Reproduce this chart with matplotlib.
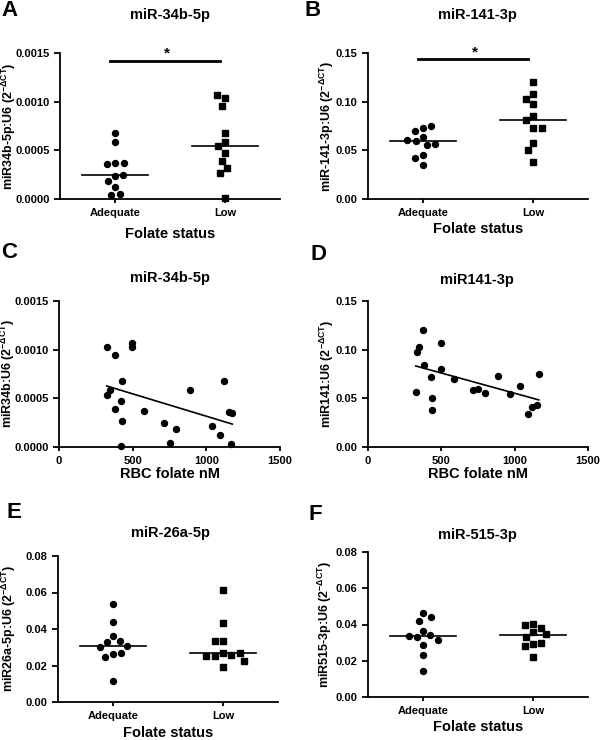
import matplotlib
matplotlib.use('Agg')
import matplotlib.pyplot as plt
import numpy as np

plt.rcParams['font.family'] = ['Liberation Sans', 'DejaVu Sans']
plt.rcParams['font.weight'] = 'bold'
plt.rcParams['mathtext.fontset'] = 'custom'
plt.rcParams['mathtext.rm'] = 'Liberation Sans'
plt.rcParams['mathtext.it'] = 'Liberation Sans:italic'
plt.rcParams['mathtext.bf'] = 'Liberation Sans:bold'

groups = ['Adequate', 'Low']

# A: miR-34b-5p by folate status
a_adequate = [0.00068, 0.00059, 0.00037, 0.00036, 0.00037, 0.00024, 0.00019, 0.00025, 0.00012, 0.000045, 0.00005]
a_low = [0.00104, 0.00107, 0.00096, 0.00068, 0.00059, 0.00054, 0.00047, 0.00039, 0.00032, 0.00027, 0.00001]

# B: miR-141-3p by folate status
b_adequate = [0.0634, 0.0733, 0.0695, 0.0747, 0.0592, 0.0555, 0.0562, 0.0606, 0.0449, 0.0418, 0.0346]
b_low = [0.1205, 0.1079, 0.1031, 0.0973, 0.0853, 0.0808, 0.0726, 0.0726, 0.0572, 0.0500, 0.0384]

# C: miR-34b-5p vs RBC folate
c_rbc = [324, 378, 497, 497, 429, 344, 328, 424, 378, 579, 889, 1117, 1151, 1176, 429, 716, 793, 1037, 1092, 752, 1165, 424]
c_mir = [0.00103, 0.00095, 0.00107, 0.00103, 0.00068, 0.00059, 0.00053, 0.00047, 0.00039, 0.00037, 0.00059,
         0.00068, 0.00036, 0.00035, 0.00027, 0.00025, 0.00018, 0.00022, 0.00012, 0.000045, 0.00003, 0.000007]

# D: miR141-3p vs RBC folate
d_rbc = [378, 351, 333, 501, 383, 501, 428, 584, 326, 433, 437, 716, 752, 795, 888, 965, 1038, 1164, 1092, 1121, 1149]
d_mir = [0.1205, 0.1027, 0.0973, 0.1072, 0.0846, 0.0805, 0.0723, 0.0695, 0.0565, 0.0500, 0.0380,
         0.0586, 0.0599, 0.0555, 0.0726, 0.0548, 0.0627, 0.0747, 0.0342, 0.0411, 0.0435]

# E: miR-26a-5p by folate status
e_adequate = [0.0535, 0.0438, 0.0362, 0.0327, 0.0334, 0.0303, 0.0307, 0.0263, 0.0270, 0.0245, 0.0115]
e_low = [0.0612, 0.0433, 0.0334, 0.0334, 0.0267, 0.0254, 0.0256, 0.0254, 0.0267, 0.0226, 0.0192]

# F: miR-515-3p by folate status
f_adequate = [0.0461, 0.0421, 0.0443, 0.0364, 0.0331, 0.0340, 0.0337, 0.0317, 0.0289, 0.0229, 0.0143]
f_low = [0.0405, 0.0397, 0.0383, 0.0357, 0.0333, 0.0348, 0.0295, 0.0298, 0.0280, 0.0222]

W, H = 600, 740
fig = plt.figure(figsize=(W/100, H/100), dpi=100)

def box(l, r, t, b):
    return [l/W, 1-b/H, (r-l)/W, (b-t)/H]

def swarm(vals, ax, ymax, d=8.5):
    # simple beeswarm in pixel space, returns x offsets in category units
    h = ax.bbox.height
    unit = ax.bbox.width/2
    xs, ys, out = [], [], []
    for v in vals:
        y = v/ymax*h
        cands = [0.0]
        for px, py in zip(xs, ys):
            dy = abs(y-py)
            if dy < d:
                dx = np.sqrt(d*d-dy*dy)
                cands += [px-dx, px+dx]
        cands.sort(key=abs)
        for c in cands:
            if all((c-px)**2+(y-py)**2 >= d*d-1e-6 for px, py in zip(xs, ys)):
                break
        xs.append(c); ys.append(y)
        out.append(c/unit)
    return np.array(out)

def style(ax):
    ax.spines['top'].set_visible(False)
    ax.spines['right'].set_visible(False)
    ax.spines['left'].set_linewidth(1.3)
    ax.spines['bottom'].set_linewidth(1.3)
    ax.tick_params(direction='out', length=4, width=1.3, labelsize=8)
    ax.tick_params(axis='x', length=3)

ylab = r'%s (2$^{\mathregular{-\Delta CT}}$)'

def labels(ax, xlabel, ylabel, lx, ly):
    ax.set_xlabel(xlabel, fontsize=10.5, fontweight='bold', va='top')
    ax.xaxis.set_label_coords(0.5, -ly)
    ax.set_ylabel(ylab % ylabel, fontsize=9, fontweight='bold')
    ax.yaxis.set_label_coords(lx, 0.5)

def dotpanel(rect, adequate, low, ymax, yticks, fmt, ylabel, lx, ly, sig=None):
    ax = fig.add_axes(box(*rect))
    style(ax)
    for i, (vals, m, ms) in enumerate([(adequate, 'o', 4.3), (low, 's', 4.0)]):
        x = i + swarm(vals, ax, ymax)
        ax.plot(x, vals, ls='none', marker=m, ms=ms, color='black', clip_on=False)
        med = np.median(vals)
        ax.plot([i-0.3, i+0.3], [med, med], color='black', lw=1.2)
    ax.set_xlim(-0.5, 1.5)
    ax.set_ylim(0, ymax)
    ax.set_xticks([0, 1])
    ax.set_xticklabels(groups)
    ax.set_yticks(yticks)
    ax.set_yticklabels([fmt % t for t in yticks])
    labels(ax, 'Folate status', ylabel, lx, ly)
    if sig is not None:
        ax.plot([-0.05, 0.95], [sig, sig], color='black', lw=2, clip_on=False)
        ax.text(0.47, sig, '*', ha='center', va='bottom', fontsize=11, fontweight='bold')
    return ax

def scatpanel(rect, x, y, ymax, yticks, fmt, ylabel, lx, ly):
    ax = fig.add_axes(box(*rect))
    style(ax)
    ax.plot(x, y, ls='none', marker='o', ms=4.3, color='black', clip_on=False)
    k, b = np.polyfit(x, y, 1)
    xx = np.array([min(x), max(x)])
    ax.plot(xx, k*xx+b, color='black', lw=1.2)
    ax.set_xlim(0, 1500)
    ax.set_ylim(0, ymax)
    ax.set_xticks([0, 500, 1000, 1500])
    ax.set_yticks(yticks)
    ax.set_yticklabels([fmt % t for t in yticks])
    labels(ax, 'RBC folate nM', ylabel, lx, ly)
    return ax

t34 = [0, 0.0005, 0.0010, 0.0015]
t141 = [0, 0.05, 0.10, 0.15]
t08 = [0, 0.02, 0.04, 0.06, 0.08]

dotpanel((60, 280, 53, 199), a_adequate, a_low, 0.0015, t34, '%.4f', 'miR34b-5p:U6', -0.19, 0.19, sig=0.00142)
dotpanel((368, 588, 53, 199), b_adequate, b_low, 0.15, t141, '%.2f', 'miR-141-3p:U6', -0.145, 0.16, sig=0.1438)
scatpanel((59, 280, 301, 447), c_rbc, c_mir, 0.0015, t34, '%.4f', 'miR34b:U6', -0.19, 0.14)
scatpanel((368, 588, 301, 447), d_rbc, d_mir, 0.15, t141, '%.2f', 'miR141:U6', -0.145, 0.14)
dotpanel((58, 278, 556, 702), e_adequate, e_low, 0.08, t08, '%.2f', 'miR26a-5p:U6', -0.18, 0.164)
dotpanel((368, 588, 552, 697), f_adequate, f_low, 0.08, t08, '%.2f', 'miR515-3p:U6', -0.155, 0.157)

titles = [('miR-34b-5p', 170, 15), ('miR-141-3p', 477, 15), ('miR-34b-5p', 170, 278),
          ('miR141-3p', 477, 280), ('miR-26a-5p', 170, 533), ('miR-515-3p', 477, 535)]
for s, x, y in titles:
    fig.text(x/W, 1-y/H, s, ha='center', va='center', fontsize=10.5, fontweight='bold')

letters = [('A', 1, 10), ('B', 304, 10), ('C', 1, 253), ('D', 310, 254), ('E', 6, 512), ('F', 309, 514)]
for s, x, y in letters:
    fig.text(x/W, 1-y/H, s, ha='left', va='center', fontsize=16, fontweight='bold')

fig.savefig('out.png', dpi=100)
